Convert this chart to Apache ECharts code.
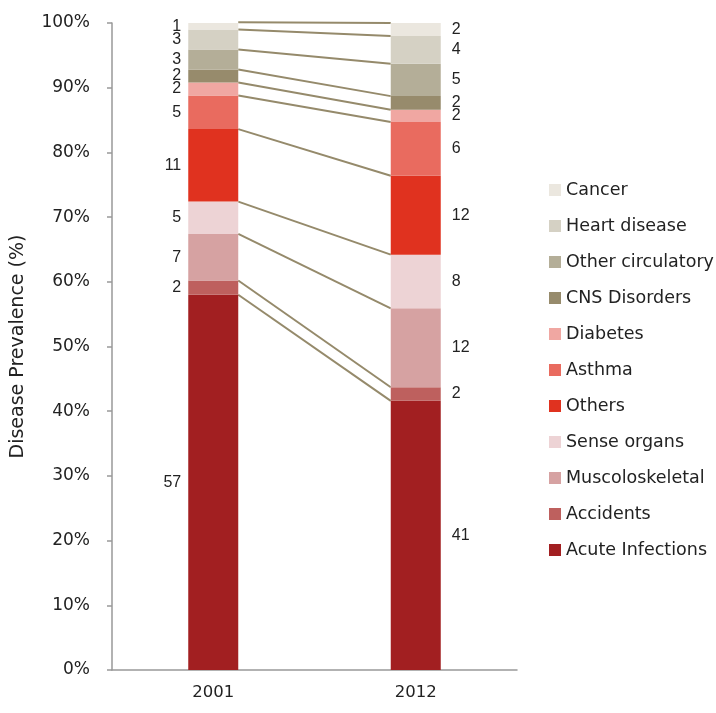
<!DOCTYPE html>
<html><head><meta charset="utf-8">
<script src="https://cdn.jsdelivr.net/npm/echarts@6/dist/echarts.min.js"></script>
<style>html,body{margin:0;padding:0;background:#fff}#c{width:716px;height:713px}</style>
</head><body><div id="c"></div>
<script>
var years = ['2001', '2012'];
// bottom to top stacking order
var categories = ['Acute Infections','Accidents','Muscoloskeletal','Sense organs','Others','Asthma','Diabetes','CNS Disorders','Other circulatory','Heart disease','Cancer'];
var values2001 = [58.0, 2.2, 7.2, 5.0, 11.2, 5.2, 2.0, 2.0, 3.1, 3.1, 1.1];
var values2012 = [41.6, 2.1, 12.2, 8.3, 12.2, 8.3, 1.9, 2.1, 5.0, 4.3, 2.0];
var labels2001 = ['57','2','7','5','11','5','2','2','3','3','1'];
var labels2012 = ['41','2','12','8','12','6','2','2','5','4','2'];
var colors = ['#a21f21','#be605e','#d6a2a2','#edd3d5','#e0321f','#e96b5f','#f0a7a2','#978b6c','#b4ae98','#d5d1c4','#ebe7df'];
var yTicks = {min:0, max:100, interval:10};

var font = 'DejaVu Sans, sans-serif';
var labelFont = 'Liberation Sans, Arial, sans-serif';
var series = categories.map(function(name, i){
  return {
    name: name, type: 'bar', stack: 'total', barWidth: 50,
    itemStyle: {color: colors[i]},
    data: [
      {value: values2001[i], label: {show:true, position:'left', distance:7, formatter: labels2001[i], fontFamily: labelFont, fontSize:16, color:'#222'}},
      {value: values2012[i], label: {show:true, position:'right', distance:11, formatter: labels2012[i], fontFamily: labelFont, fontSize:16, color:'#222'}}
    ],
    label: {color:'#222', fontSize:16, fontFamily: labelFont},
    z: 3
  };
});
// boundaries (cumulative tops)
var lineData = [];
var c1 = 0, c2 = 0;
for (var i = 0; i < categories.length; i++) {
  c1 += values2001[i]; c2 += values2012[i];
  lineData.push([0, c1, c2]);
}
series.push({
  type: 'custom', name: 'links', silent: true, z: 2,
  encode: {x: 0, y: [1, 2]},
  data: lineData,
  renderItem: function(params, api){
    var p1 = api.coord([0, api.value(1)]);
    var p2 = api.coord([1, api.value(2)]);
    var half = 25;
    return {type:'line', shape:{x1:p1[0]+half, y1:p1[1], x2:p2[0]-half, y2:p2[1]},
      style:{stroke:'#958a6b', lineWidth:2}};
  }
});

var chart = echarts.init(document.getElementById('c'));
chart.setOption({
  animation: false,
  textStyle: {fontFamily: font},
  grid: {left:112, right:199, top:23, bottom:43, containLabel:false, outerBoundsMode:'none'},
  legend: {
    orient:'vertical', left:544, top:176, itemWidth:12, itemHeight:12, itemGap:18,
    icon:'rect', textStyle:{fontSize:17.5, color:'#222', fontFamily: font},
    data: categories.slice().reverse()
  },
  xAxis: {
    type:'category', data: years,
    axisLine:{lineStyle:{color:'#999', width:1.5}},
    axisTick:{show:false},
    axisLabel:{fontSize:16.5, color:'#222', margin:14, fontFamily: font}
  },
  yAxis: {
    type:'value', min:yTicks.min, max:yTicks.max, interval:yTicks.interval,
    name:'Disease Prevalence (%)', nameLocation:'middle', nameGap:84,
    nameTextStyle:{fontSize:19, color:'#222', fontFamily: font},
    axisLine:{show:true, lineStyle:{color:'#999', width:1.5}},
    axisTick:{show:true, length:5, lineStyle:{color:'#999', width:1.5}},
    splitLine:{show:false},
    axisLabel:{formatter:'{value}%', fontSize:17, color:'#222', margin:22, fontFamily: font}
  },
  series: series
});
</script></body></html>
